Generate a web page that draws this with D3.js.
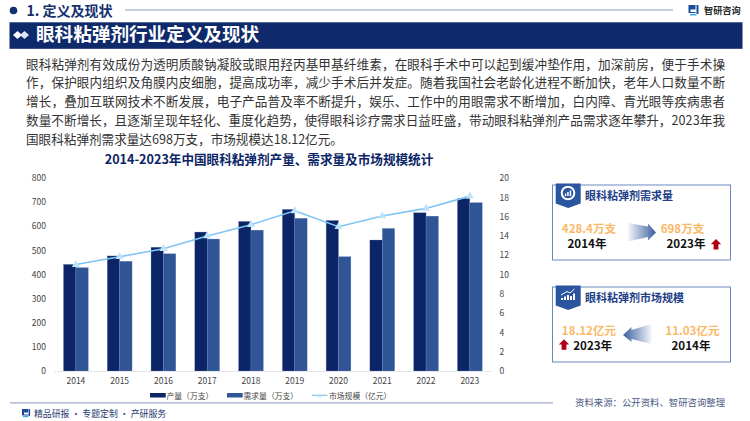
<!DOCTYPE html>
<html><head><meta charset="utf-8">
<script src="https://cdn.jsdelivr.net/npm/d3@7/dist/d3.min.js"></script>
<style>html,body{margin:0;padding:0;background:#fff}svg{display:block;font-family:"Noto Sans CJK SC",sans-serif}</style>
</head><body><svg id="c" width="750" height="421"></svg>
<script>
const years=["2014","2015","2016","2017","2018","2019","2020","2021","2022","2023"];
const production=[442,477,513,576,620,670,624,543,656,716];
const demand=[428.4,455,486,547,584,633,474,591,642,698];
const market=[11.03,11.84,12.67,14.0,15.16,16.6,14.95,16.06,16.85,18.12];
const leftTicks=[0,100,200,300,400,500,600,700,800];
const rightTicks=[0,2,4,6,8,10,12,14,16,18,20];
const bodyLines=[
"眼科粘弹剂有效成份为透明质酸钠凝胶或眼用羟丙基甲基纤维素，在眼科手术中可以起到缓冲垫作用，加深前房，便于手术操",
"作，保护眼内组织及角膜内皮细胞，提高成功率，减少手术后并发症。随着我国社会老龄化进程不断加快，老年人口数量不断",
"增长，叠加互联网技术不断发展，电子产品普及率不断提升，娱乐、工作中的用眼需求不断增加，白内障、青光眼等疾病患者",
"数量不断增长，且逐渐呈现年轻化、重度化趋势，使得眼科诊疗需求日益旺盛，带动眼科粘弹剂产品需求逐年攀升，2023年我",
"国眼科粘弹剂需求量达698万支，市场规模达18.12亿元。"];
const NAVY="#0b2566",BLUE="#2f5597",LINE="#80c4f5",TRI="#bde3fb";
const svg=d3.select("#c");
const T=(x,y,s,size,fill,w,a)=>svg.append("text").attr("x",x).attr("y",y).text(s).attr("font-size",size).attr("fill",fill).attr("font-weight",w||400).attr("text-anchor",a||"start");

// header
svg.append("circle").attr("cx",13.5).attr("cy",10.5).attr("r",3.8).attr("fill","#14306f");
T(26.5,16,"1. 定义及现状",14,"#14306f",700);
svg.append("line").attr("x1",125).attr("x2",673).attr("y1",10).attr("y2",10).attr("stroke","#8a9cc6").attr("stroke-width",1);
svg.append("path").attr("d","M688.5 5h7v4.5h-5v2.5h5v1h-7zM696.5 5h2v9h-2z").attr("fill","#1c4a9c");
svg.append("path").attr("d","M690 14h6.5v1.5H690z").attr("fill","#3fa9e8");
T(704,13.5,"智研咨询",9.2,"#2a2a2a",700);
svg.append("rect").attr("x",9.5).attr("y",22.3).attr("width",733).attr("height",26.5).attr("fill","#0e2a6b");
svg.append("path").attr("d","M13 35l4.5-4 4.5 4-4.5 4z").attr("fill","#fff");
svg.append("path").attr("d","M20 35l4.5-4 4.5 4-4.5 4z").attr("fill","#dfe5f0");
T(36,41,"眼科粘弹剂行业定义及现状",18.6,"#fff",700);

// body
const by=[68.5,87.3,106.2,125,143.6];
bodyLines.forEach((l,i)=>{
  const t=T(26,by[i],l,12.6,"#333");
  if(i<4) t.attr("textLength",699).attr("lengthAdjust","spacing");
});

// chart
T(269,164,"2014-2023年中国眼科粘弹剂产量、需求量及市场规模统计",12.6,NAVY,700,"middle");
const yL=d3.scaleLinear().domain([0,800]).range([371,178]);
const yR=d3.scaleLinear().domain([0,20]).range([371,178]);
const xb=d3.scaleBand().domain(years).range([54,491.7]);
const cx=d=>xb(d)+xb.bandwidth()/2;
const w=12.4;
[[production,NAVY,-w],[demand,BLUE,0]].forEach(([vals,col,off])=>{
  svg.append("g").selectAll("rect").data(vals).join("rect")
   .attr("x",(d,i)=>cx(years[i])+off).attr("width",w)
   .attr("y",d=>yL(d)).attr("height",d=>371-yL(d)).attr("fill",col).attr("stroke","#6f8fc8").attr("stroke-width",0.3);
});
svg.append("line").attr("x1",54).attr("x2",491.7).attr("y1",371.5).attr("y2",371.5).attr("stroke","#e6e6e6");
const ln=d3.line().x((d,i)=>cx(years[i])).y(d=>yR(d));
svg.append("path").attr("d",ln(market)).attr("fill","none").attr("stroke",LINE).attr("stroke-width",1.6);
svg.append("g").selectAll("path").data(market).join("path")
  .attr("d",d3.symbol(d3.symbolTriangle,28)).attr("transform",(d,i)=>`translate(${cx(years[i])},${yR(d)})`).attr("fill",TRI);
const axL=d3.axisLeft(yL).tickValues(leftTicks).tickSize(0).tickPadding(0);
const gL=svg.append("g").attr("transform","translate(46,0)").call(axL);
const axR=d3.axisRight(yR).tickValues(rightTicks).tickSize(0).tickPadding(0);
const gR=svg.append("g").attr("transform","translate(499.5,0)").call(axR);
const axB=d3.axisBottom(xb).tickSize(0).tickPadding(0);
const gB=svg.append("g").attr("transform","translate(0,378)").call(axB);
[gL,gR,gB].forEach(g=>{g.select(".domain").remove();g.selectAll("text").attr("font-size",8.5).attr("fill","#444").attr("font-family",'"Noto Sans CJK SC",sans-serif');});

// legend
const lg=[[150,NAVY,"产量（万支）",166.5],[227,BLUE,"需求量（万支）",243.5]];
lg.forEach(([lx,c,s,tx])=>{
  svg.append("rect").attr("x",lx).attr("y",393).attr("width",15.7).attr("height",4.5).attr("fill",c);
  T(tx,398.7,s,7.8,"#444");
});
svg.append("line").attr("x1",312).attr("x2",327.5).attr("y1",395.3).attr("y2",395.3).attr("stroke",LINE).attr("stroke-width",1.2);
svg.append("path").attr("d",d3.symbol(d3.symbolTriangle,9)).attr("transform","translate(319.5,396)").attr("fill",TRI);
T(329,398.7,"市场规模（亿元）",7.8,"#444");

// footer
svg.append("line").attr("x1",10).attr("x2",553).attr("y1",402.8).attr("y2",402.8).attr("stroke","#9eabc9").attr("stroke-width",1.2);
svg.append("path").attr("d","M22 409h6v3.5h-4v2h4v1h-6zM28.5 409h1.6v7h-1.6z").attr("fill","#1c4a9c");
svg.append("path").attr("d","M23 416h5.5v1.2H23z").attr("fill","#3fa9e8");
T(34,417,"精品研报 · 专题定制 · 产研服务",8.9,"#26396f");
T(575,405.5,"资料来源：公开资料、智研咨询整理",9.4,"#4a5a85");

// cards
function card(y,h,title,ty){
  svg.append("rect").attr("x",552.5).attr("y",y).attr("width",178).attr("height",h).attr("fill","#fff").attr("stroke","#6a87bd").attr("stroke-width",1);
  svg.append("path").attr("d",`M555.7 ${y-1.5}h25v20l-12.5 4.5-12.5-4.5z`).attr("fill","#2c55a0");
  T(585,ty,title,11,"#1e4088",700);
}
card(185,75,"眼科粘弹剂需求量",199.5);
svg.append("circle").attr("cx",568).attr("cy",193).attr("r",6.3).attr("fill","none").attr("stroke","#fff").attr("stroke-width",2);
svg.append("path").attr("d","M564.8 196v-2.5h1.5v2.5zM567.2 196v-4h1.5v4zM569.7 196v-5.5h1.5v5.5z").attr("fill","#fff");
card(287,75,"眼科粘弹剂市场规模",301.5);
svg.append("path").attr("d","M561 300v-2h2v2zM564 300v-3.5h2v3.5zM567 300v-5h2v5zM570 300v-4h2v4zM573 300v-6.5h2v6.5z").attr("fill","#fff");
svg.append("path").attr("d","M561 295l6-3.5 3 1.5 4.5-4").attr("fill","none").attr("stroke","#fff").attr("stroke-width",1);

const defs=svg.append("defs");
const g1=defs.append("linearGradient").attr("id","gr").attr("x1",0).attr("x2",1);
g1.append("stop").attr("offset",0).attr("stop-color","#2f5597").attr("stop-opacity",0.05);
g1.append("stop").attr("offset",1).attr("stop-color","#2f5597").attr("stop-opacity",0.95);
const g2=defs.append("linearGradient").attr("id","gl").attr("x1",1).attr("x2",0);
g2.append("stop").attr("offset",0).attr("stop-color","#2f5597").attr("stop-opacity",0.05);
g2.append("stop").attr("offset",1).attr("stop-color","#2f5597").attr("stop-opacity",0.95);
const ORANGE="#fbb968";
T(589,232.5,"428.4万支",11.6,ORANGE,700,"middle");
T(587,247.5,"2014年",11.6,"#111",700,"middle");
T(682.5,232.5,"698万支",11.6,ORANGE,700,"middle");
T(686,247.5,"2023年",11.6,"#111",700,"middle");
svg.append("path").attr("d","M628 223l20 3.5v-3l8 9-8 8v-3.5l-20 4.5z").attr("fill","url(#gr)");
const up=(ux,uy)=>svg.append("path").attr("d",`M${ux} ${uy}l5.2 5.2h-2.8v5.3h-4.8v-5.3h-2.8z`).attr("fill","#b00012");
up(716,239);
T(589,335,"18.12亿元",11.6,ORANGE,700,"middle");
T(592.7,350,"2023年",11.6,"#111",700,"middle");
T(692.5,335,"11.03亿元",11.6,ORANGE,700,"middle");
T(691,350,"2014年",11.6,"#111",700,"middle");
svg.append("path").attr("d","M651.5 324l-20 6v-3l-8.5 8 8.5 7v-3l20 5z").attr("fill","url(#gl)");
up(564,339.3);
</script></body></html>
